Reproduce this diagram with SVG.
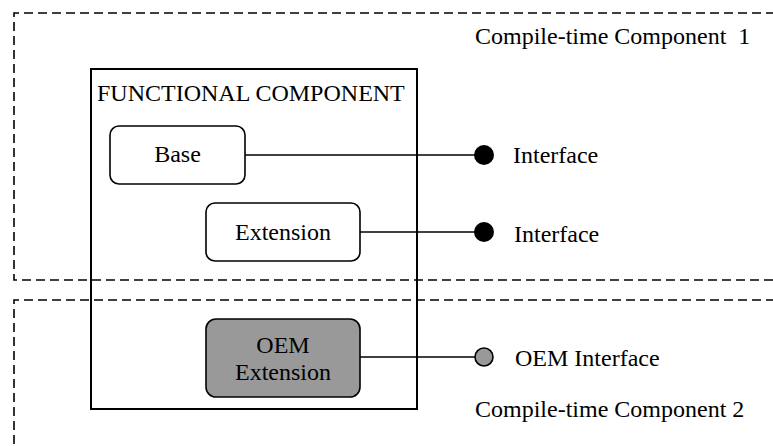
<svg xmlns="http://www.w3.org/2000/svg" width="773" height="446" viewBox="0 0 773 446">
<style>
.dash{fill:none;stroke:#000;stroke-width:1.6;stroke-dasharray:9 5}
.frame{fill:none;stroke:#000;stroke-width:2}
.box{fill:#fff;stroke:#000;stroke-width:1.6}
.oem{fill:#999;stroke:#000;stroke-width:1.6}
.t{font-family:"Liberation Serif","Times New Roman",serif;font-size:24px;fill:#000}
.c{text-anchor:middle}
.wire{stroke:#000;stroke-width:1.6;fill:none}
</style>
<rect width="773" height="446" fill="#fff"/>
<g id="ctc1">
<path class="dash" d="M775,13 H14 V280 H775"/>
<text class="t" x="475" y="44" xml:space="preserve">Compile-time Component  1</text>
</g>
<g id="ctc2">
<path class="dash" d="M775,300 H14 V448"/>
<text class="t" x="475" y="417">Compile-time Component 2</text>
</g>
<g id="functional">
<rect class="frame" x="91" y="69" width="326" height="340"/>
<text class="t" x="97" y="101">FUNCTIONAL COMPONENT</text>
</g>
<g id="connectors">
<line class="wire" x1="245" y1="155" x2="476" y2="155"/>
<line class="wire" x1="360" y1="232" x2="476" y2="232"/>
<line class="wire" x1="360" y1="357" x2="476" y2="357"/>
</g>
<g id="base">
<rect class="box" x="110" y="126" width="135" height="58" rx="9"/>
<text class="t c" x="177.5" y="162">Base</text>
</g>
<g id="extension">
<rect class="box" x="206" y="203" width="154" height="58" rx="9"/>
<text class="t c" x="283" y="240">Extension</text>
</g>
<g id="oem-extension">
<rect class="oem" x="206" y="319" width="154" height="78" rx="10"/>
<text class="t c" x="283" y="353">OEM</text>
<text class="t c" x="283" y="380">Extension</text>
</g>
<g id="interface1">
<circle cx="484" cy="155" r="10" fill="#000"/>
<text class="t" x="513" y="163">Interface</text>
</g>
<g id="interface2">
<circle cx="484" cy="232" r="10" fill="#000"/>
<text class="t" x="514" y="242">Interface</text>
</g>
<g id="oem-interface">
<circle cx="484" cy="357" r="9" fill="#999" stroke="#000" stroke-width="1.6"/>
<text class="t" x="515" y="366">OEM Interface</text>
</g>
</svg>
